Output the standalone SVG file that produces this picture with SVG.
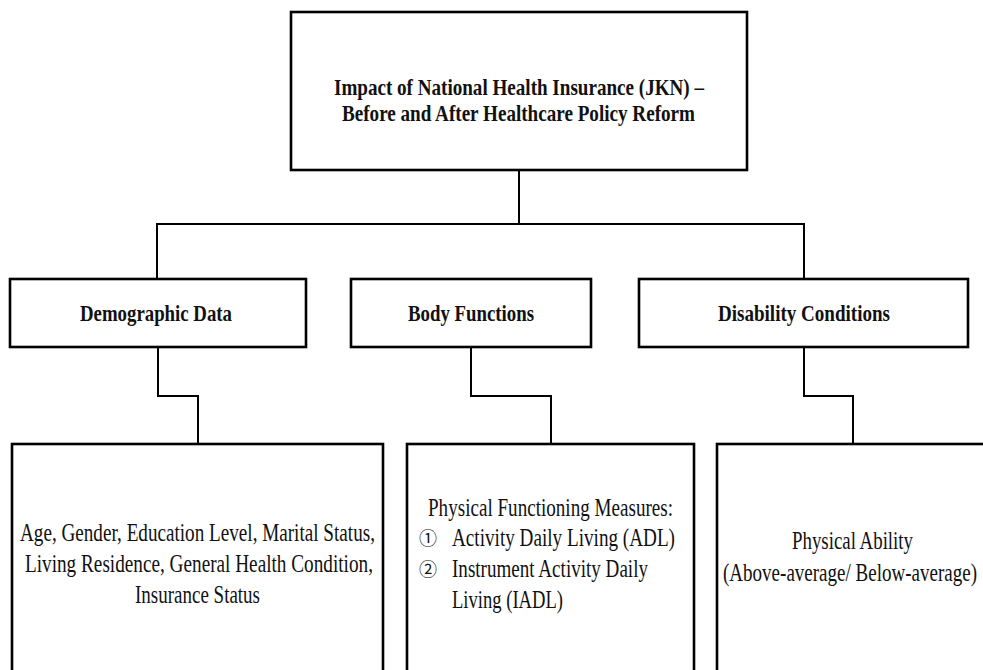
<svg xmlns="http://www.w3.org/2000/svg" width="983" height="670" viewBox="0 0 983 670">
<style>
.box{fill:#fff;stroke:#000;stroke-width:2.6}
.con{fill:none;stroke:#000;stroke-width:2}
.h{font-family:"Liberation Serif","Times New Roman",serif;font-weight:bold;font-size:24px;fill:#111}
.t{font-family:"Liberation Serif","Times New Roman",serif;font-size:26px;fill:#111}
.c{font-family:"Noto Sans CJK SC","DejaVu Sans",sans-serif;font-size:18px;fill:#111}
</style>
<rect width="983" height="670" fill="#fff"/>
<g id="connectors">
<polyline class="con" points="519,170 519,224"/>
<polyline class="con" points="157,279 157,224 804,224 804,279"/>
<polyline class="con" points="158,347 158,396 198,396 198,444"/>
<polyline class="con" points="471,347 471,396 551,396 551,444"/>
<polyline class="con" points="804,347 804,396 853,396 853,444"/>
</g>
<g id="root">
<rect class="box" x="291" y="12" width="456" height="158"/>
<g transform="scale(0.8,1)">
<text class="h" x="417.5" y="95" textLength="462.5" lengthAdjust="spacingAndGlyphs">Impact of National Health Insurance (JKN) –</text>
<text class="h" x="427.5" y="121" textLength="441.25" lengthAdjust="spacingAndGlyphs">Before and After Healthcare Policy Reform</text>
</g>
</g>
<g id="demographic">
<rect class="box" x="10" y="279" width="296" height="68"/>
<text class="h" transform="scale(0.8,1)" x="100" y="321" textLength="190" lengthAdjust="spacingAndGlyphs">Demographic Data</text>
</g>
<g id="body">
<rect class="box" x="351" y="279" width="240" height="68"/>
<text class="h" transform="scale(0.8,1)" x="510" y="321" textLength="157.5" lengthAdjust="spacingAndGlyphs">Body Functions</text>
</g>
<g id="disability">
<rect class="box" x="639" y="279" width="329" height="68"/>
<text class="h" transform="scale(0.8,1)" x="897.5" y="321" textLength="215" lengthAdjust="spacingAndGlyphs">Disability Conditions</text>
</g>
<g id="demographic-detail">
<rect class="box" x="12" y="444" width="371" height="240"/>
<g transform="scale(0.7,1)">
<text class="t" x="28.57" y="541" textLength="507.1" lengthAdjust="spacingAndGlyphs">Age, Gender, Education Level, Marital Status,</text>
<text class="t" x="35.71" y="572" textLength="497.1" lengthAdjust="spacingAndGlyphs">Living Residence, General Health Condition,</text>
<text class="t" x="192.86" y="603" textLength="178.6" lengthAdjust="spacingAndGlyphs">Insurance Status</text>
</g>
</g>
<g id="body-detail">
<rect class="box" x="407" y="444" width="287" height="240"/>
<text class="c" x="419" y="545">①</text>
<text class="c" x="419" y="576">②</text>
<g transform="scale(0.7,1)">
<text class="t" x="611.43" y="516" textLength="350" lengthAdjust="spacingAndGlyphs">Physical Functioning Measures:</text>
<text class="t" x="645.71" y="546" textLength="318.6" lengthAdjust="spacingAndGlyphs">Activity Daily Living (ADL)</text>
<text class="t" x="645.71" y="577" textLength="280" lengthAdjust="spacingAndGlyphs">Instrument Activity Daily</text>
<text class="t" x="645.71" y="608" textLength="158.6" lengthAdjust="spacingAndGlyphs">Living (IADL)</text>
</g>
</g>
<g id="disability-detail">
<rect class="box" x="717" y="444" width="280" height="240"/>
<g transform="scale(0.7,1)">
<text class="t" x="1131.43" y="549" textLength="172.9" lengthAdjust="spacingAndGlyphs">Physical Ability</text>
<text class="t" x="1032.86" y="581" textLength="362.9" lengthAdjust="spacingAndGlyphs">(Above-average/ Below-average)</text>
</g>
</g>
</svg>
